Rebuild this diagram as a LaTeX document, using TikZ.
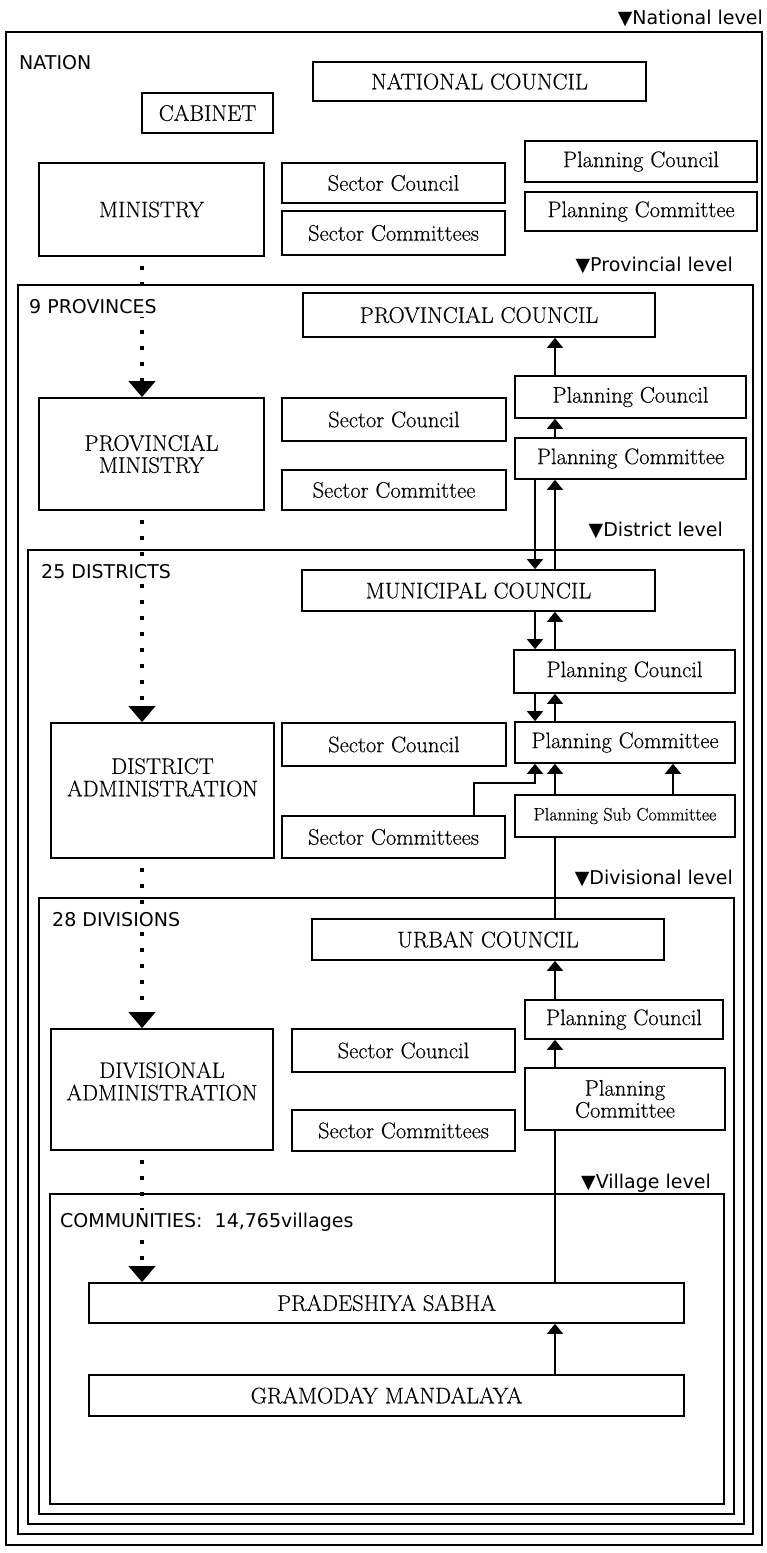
\documentclass[tikz,border=0pt]{standalone}
\usepackage{fontspec}
\newfontfamily\labfont{DejaVu Sans}
\newfontfamily\boxfont{Latin Modern Roman}[FakeBold=0.4]
\usetikzlibrary{arrows.meta}
% lift a block of lines without changing its apparent size
\newcommand\liftlines[2]{\raisebox{#1}[\height][\depth]{\begin{tabular}{@{}c@{}}#2\end{tabular}}}
\begin{document}
\begin{tikzpicture}[x=1pt,y=-1pt,
  lvframe/.style={draw,line width=1.7pt},
  box/.style={draw,line width=1.7pt,inner sep=0pt,align=center,
    font={\boxfont\fontsize{22.5}{22}\selectfont}},
  arr/.style={line width=1.6pt,-{Triangle[width=16pt,length=10pt]}},
  link/.style={line width=1.6pt},
  dotarr/.style={line width=4.5pt,dash pattern=on 4.5pt off 11.5pt,dash phase=7pt,
    -{Triangle[width=26pt,length=16pt]}},
  sect/.style={anchor=west,inner sep=3pt,fill=white,
    font={\labfont\fontsize{19}{20}\selectfont}},
  lvl/.style={anchor=east,inner sep=0pt,
    font={\labfont\fontsize{19}{20}\selectfont}}]
\useasboundingbox (0,0) rectangle (766,1553);

% nested level frames
\draw[lvframe] (6,32) rectangle (762,1545);
\draw[lvframe] (18,285) rectangle (753,1534);
\draw[lvframe] (28,550) rectangle (744,1524);
\draw[lvframe] (39,898) rectangle (734,1514);
\draw[lvframe] (50,1194) rectangle (724,1504);

% level markers
\node[lvl] (lnat)  at (763,18)   {▼National level};
\node[lvl] (lprov) at (733,265)  {▼Provincial level};
\node[lvl] (ldist) at (723,530)  {▼District level};
\node[lvl] (ldiv)  at (733,878)  {▼Divisional level};
\node[lvl] (lvil)  at (711,1183) {▼Village level};

% national level
\node[box,minimum width=333pt,minimum height=39pt] (natc) at (479.5,81.5) {NATIONAL COUNCIL};
\node[box,minimum width=131pt,minimum height=40pt] (cab) at (207.5,113) {CABINET};
\node[box,minimum width=225pt,minimum height=93pt] (min) at (151.5,209.5) {MINISTRY};
\node[box,minimum width=223pt,minimum height=40pt] (nsc) at (393.5,183) {Sector Council};
\node[box,minimum width=223pt,minimum height=44pt] (nsm) at (393.5,233) {Sector Committees};
\node[box,minimum width=232pt,minimum height=41pt] (npc) at (641,161.5) {Planning Council};
\node[box,minimum width=232pt,minimum height=39pt] (npm) at (641,211.5) {Planning Committee};

% provincial level
\node[box,minimum width=352pt,minimum height=44pt] (provc) at (479,315) {PROVINCIAL COUNCIL};
\node[box,minimum width=225pt,minimum height=112pt] (pmin) at (151.5,454) {PROVINCIAL\\MINISTRY};
\node[box,minimum width=224pt,minimum height=43pt] (psc) at (394,419.5) {Sector Council};
\node[box,minimum width=224pt,minimum height=40pt] (psm) at (394,490) {Sector Committee};
\node[box,minimum width=231pt,minimum height=42pt] (ppc) at (630.5,397) {Planning Council};
\node[box,minimum width=231pt,minimum height=41pt] (ppm) at (630.5,458.5) {Planning Committee};

% district level
\node[box,minimum width=353pt,minimum height=41pt] (muni) at (478.5,590.5) {MUNICIPAL COUNCIL};
\node[box,minimum width=223pt,minimum height=135pt] (dadm) at (162.5,790.5) {\liftlines{10pt}{DISTRICT\\ADMINISTRATION}};
\node[box,minimum width=224pt,minimum height=43pt] (dsc) at (394,744.5) {Sector Council};
\node[box,minimum width=223pt,minimum height=42pt] (dsm) at (393.5,837) {Sector Committees};
\node[box,minimum width=221pt,minimum height=43pt] (dpc) at (624.5,671.5) {Planning Council};
\node[box,minimum width=220pt,minimum height=41pt] (dpm) at (625,742.5) {Planning Committee};
\node[box,minimum width=220pt,minimum height=42pt,font={\boxfont\fontsize{18}{18}\selectfont}] (dsub) at (625,816) {Planning Sub Committee};

% divisional level
\node[box,minimum width=352pt,minimum height=41pt] (urb) at (488,939.5) {URBAN COUNCIL};
\node[box,minimum width=222pt,minimum height=121pt] (vadm) at (162,1089.5) {\liftlines{5pt}{DIVISIONAL\\ADMINISTRATION}};
\node[box,minimum width=223pt,minimum height=43pt] (vsc) at (403.5,1050.5) {Sector Council};
\node[box,minimum width=223pt,minimum height=41pt] (vsm) at (403.5,1130.5) {Sector Committees};
\node[box,minimum width=198pt,minimum height=39pt] (vpc) at (624,1019.5) {Planning Council};
\node[box,minimum width=200pt,minimum height=62pt] (vpm) at (625,1099) {Planning\\Committee};

% village level
\node[box,minimum width=595pt,minimum height=40pt] (prad) at (386.5,1303) {PRADESHIYA SABHA};
\node[box,minimum width=595pt,minimum height=41pt] (gram) at (386.5,1395.5) {GRAMODAY MANDALAYA};

% connector columns
\coordinate (dn) at (535,0);
\coordinate (up) at (555,0);
\coordinate (rt) at (673,0);
\coordinate (dx) at (142,0);
\coordinate (kink) at (474,783);

% upward reporting chain and downward links
\draw[arr] (up |- ppc.north) -- (up |- provc.south);
\draw[arr] (up |- ppm.north) -- (up |- ppc.south);
\draw[arr] (up |- muni.north) -- (up |- ppm.south);
\draw[arr] (dn |- ppm.south) -- (dn |- muni.north);
\draw[arr] (dn |- muni.south) -- (dn |- dpc.north);
\draw[arr] (up |- dpc.north) -- (up |- muni.south);
\draw[arr] (dn |- dpc.south) -- (dn |- dpm.north);
\draw[arr] (up |- dpm.north) -- (up |- dpc.south);
\draw[arr] (dsm.north -| kink) -- (kink) -- (dn |- kink) -- (dn |- dpm.south);
\draw[arr] (up |- dsub.north) -- (up |- dpm.south);
\draw[arr] (rt |- dsub.north) -- (rt |- dpm.south);
\draw[link] (up |- urb.north) -- (up |- dsub.south);
\draw[arr] (up |- vpc.north) -- (up |- urb.south);
\draw[arr] (up |- vpm.north) -- (up |- vpc.south);
\draw[link] (up |- prad.north) -- (up |- vpm.south);
\draw[arr] (up |- gram.north) -- (up |- prad.south);

% administrative line down the left column
\draw[dotarr] (dx |- min.south) -- (dx |- pmin.north);
\draw[dotarr] (dx |- pmin.south) -- (dx |- dadm.north);
\draw[dotarr] (dx |- dadm.south) -- (dx |- vadm.north);
\draw[dotarr] (dx |- vadm.south) -- (dx |- prad.north);

% level names
\node[sect] (snat)  at (16,63)   {NATION};
\node[sect] (sprov) at (26,307)  {9 PROVINCES};
\node[sect] (sdist) at (38,572)  {25 DISTRICTS};
\node[sect] (sdiv)  at (49,920)  {28 DIVISIONS};
\node[sect] (scom)  at (57,1222) {COMMUNITIES:~~14,765villages};
\end{tikzpicture}
\end{document}
